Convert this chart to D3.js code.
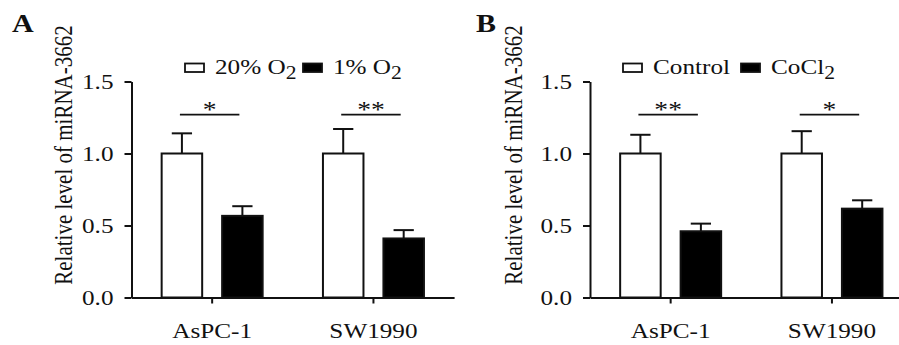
<!DOCTYPE html>
<html>
<head>
<meta charset="utf-8">
<script src="https://cdn.jsdelivr.net/npm/d3@7/dist/d3.min.js"></script>
<style>
  html, body { margin: 0; padding: 0; background: #fff; }
  svg { display: block; }
  text { font-family: "Liberation Serif", "Times New Roman", "DejaVu Serif", serif; fill: #111; }
</style>
</head>
<body>
<svg id="chart" width="899" height="345"></svg>
<script>
// ---------- DATA ----------
const categories = ["AsPC-1", "SW1990"];
const yTicks = [0, 0.5, 1.0, 1.5];
const yLabel = "Relative level of miRNA-3662";

// Panel A
const seriesA = ["20% O2", "1% O2"];
const meanA_20 = [1.0, 1.0];
const errA_20  = [0.14, 0.17];
const meanA_1  = [0.567, 0.41];
const errA_1   = [0.067, 0.058];
const sigA     = ["*", "**"];

// Panel B
const seriesB = ["Control", "CoCl2"];
const meanB_ctrl = [1.0, 1.0];
const errB_ctrl  = [0.13, 0.155];
const meanB_co   = [0.46, 0.617];
const errB_co    = [0.053, 0.058];
const sigB       = ["**", "*"];

const sigLevel = 1.27;

// ---------- LAYOUT ----------
const svg = d3.select("#chart");
const yBottom = 297.5, yTop = 81.5;
const step = 161.3;
const S = 1.2; // horizontal stretch of the original figure's lettering

function stretch(sel) {
  sel.each(function () {
    const x = +(this.getAttribute("x") || 0);
    this.setAttribute("x", x / S);
    this.setAttribute("transform", `scale(${S},1)`);
  });
}

function legendItem(g, x, fill, mainText, subText) {
  g.append("rect").attr("x", x).attr("y", 63.5).attr("width", 19).attr("height", 8.5)
    .attr("fill", fill).attr("stroke", "#111").attr("stroke-width", 1.8);
  const t = g.append("text").attr("x", x + 30).attr("y", 74).attr("font-size", 21);
  t.append("tspan").text(mainText);
  if (subText) t.append("tspan").attr("font-size", 18).attr("dy", 5).text(subText);
  stretch(t);
}

function drawPanel(cfg) {
  const g = svg.append("g");
  const y = d3.scaleLinear().domain([0, 1.5]).range([yBottom, yTop]);
  const x0 = d3.scaleBand().domain(categories).range([cfg.axisX, cfg.axisX + 2 * step])
    .paddingInner(0).paddingOuter(0);
  const x1 = d3.scaleBand().domain([0, 1])
    .range([x0.bandwidth() / 2 - 50.5, x0.bandwidth() / 2 + 50.5]).paddingInner(0.33);

  // y axis
  const yAx = g.append("g").attr("transform", `translate(${cfg.axisX},0)`)
    .call(d3.axisLeft(y).tickValues(yTicks).tickFormat(d3.format(".1f"))
      .tickSizeInner(7).tickSizeOuter(0).tickPadding(11));
  yAx.selectAll("path, line").attr("stroke", "#111").attr("stroke-width", 2);
  yAx.selectAll("text").attr("font-size", 21).attr("font-family", null).attr("fill", "#111")
    .call(stretch);

  // bars
  const groups = [
    { mean: cfg.m0, err: cfg.e0, fill: "#fff", idx: 0 },
    { mean: cfg.m1, err: cfg.e1, fill: "#000", idx: 1 }
  ];
  groups.forEach(s => {
    categories.forEach((c, i) => {
      const bx = x0(c) + x1(s.idx);
      const bw = x1.bandwidth();
      const cx = bx + bw / 2;
      g.append("line").attr("x1", cx).attr("x2", cx)
        .attr("y1", y(s.mean[i])).attr("y2", y(s.mean[i] + s.err[i]))
        .attr("stroke", "#111").attr("stroke-width", 2);
      g.append("line").attr("x1", cx - bw / 4).attr("x2", cx + bw / 4)
        .attr("y1", y(s.mean[i] + s.err[i])).attr("y2", y(s.mean[i] + s.err[i]))
        .attr("stroke", "#111").attr("stroke-width", 2);
      g.append("rect").attr("x", bx).attr("y", y(s.mean[i]))
        .attr("width", bw).attr("height", y(0) - y(s.mean[i]))
        .attr("fill", s.fill).attr("stroke", "#111").attr("stroke-width", 2);
    });
  });

  // x axis
  const xAx = g.append("g").attr("transform", `translate(0,${yBottom})`)
    .call(d3.axisBottom(x0).tickSizeInner(6).tickSizeOuter(0).tickPadding(20));
  xAx.selectAll("path, line").attr("stroke", "#111").attr("stroke-width", 2);
  xAx.selectAll("text").attr("font-size", 21).attr("font-family", null).attr("fill", "#111")
    .call(stretch);

  // significance
  categories.forEach((c, i) => {
    const xa = x0(c) + x1(0) + x1.bandwidth() / 2 - 2;
    const xb = x0(c) + x1(1) + x1.bandwidth() / 2 - 3;
    g.append("line").attr("x1", xa).attr("x2", xb)
      .attr("y1", y(sigLevel)).attr("y2", y(sigLevel))
      .attr("stroke", "#111").attr("stroke-width", 1.8);
    g.append("text").attr("x", (xa + xb) / 2).attr("y", y(sigLevel) + 2)
      .attr("text-anchor", "middle").attr("font-size", 23).attr("fill", "#444")
      .text(cfg.sig[i]).call(stretch);
  });

  // y label
  g.append("text").attr("transform", `translate(${cfg.yLabelX},155) scale(${S},1) rotate(-90)`)
    .attr("text-anchor", "middle").attr("font-size", 21).text(yLabel);

  // panel letter
  g.append("text").attr("x", cfg.letterX).attr("y", 32).attr("font-size", 25)
    .attr("font-weight", "bold").attr("fill", "#000").text(cfg.letter).call(stretch);

  // legend
  legendItem(g, cfg.leg0, "#fff", cfg.legText0[0], cfg.legText0[1]);
  legendItem(g, cfg.leg1, "#000", cfg.legText1[0], cfg.legText1[1]);
}

drawPanel({
  letter: "A", letterX: 12, axisX: 131.5, yLabelX: 71.5,
  m0: meanA_20, e0: errA_20, m1: meanA_1, e1: errA_1, sig: sigA,
  leg0: 185, leg1: 303,
  legText0: ["20% O", "2"], legText1: ["1% O", "2"]
});
drawPanel({
  letter: "B", letterX: 476, axisX: 590, yLabelX: 522,
  m0: meanB_ctrl, e0: errB_ctrl, m1: meanB_co, e1: errB_co, sig: sigB,
  leg0: 623, leg1: 741,
  legText0: ["Control", null], legText1: ["CoCl", "2"]
});
</script>
</body>
</html>
